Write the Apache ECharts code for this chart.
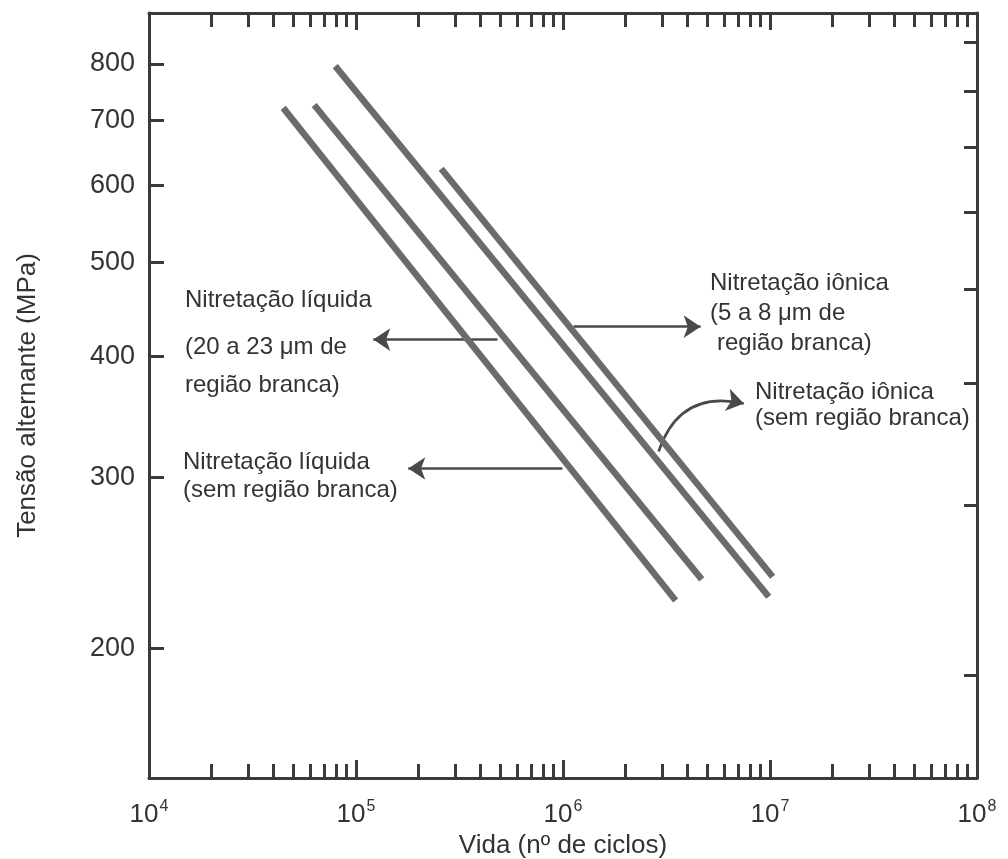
<!DOCTYPE html>
<html><head><meta charset="utf-8">
<script src="https://cdn.jsdelivr.net/npm/echarts@6/dist/echarts.min.js"></script>
<style>html,body{margin:0;padding:0;background:#fff}#c{width:1008px;height:859px}</style>
</head><body><div id="c"></div>
<script>
// ---- data (cycles, MPa) ----
const cyclesLiqSem  = [44500, 3.50e6];
const stressLiqSem  = [721, 224];
const cyclesLiq2023 = [62800, 4.68e6];
const stressLiq2023 = [726, 235.5];
const cyclesIonSem  = [79400, 9.86e6];
const stressIonSem  = [796, 226];
const cyclesIon58   = [258000, 1.03e7];
const stressIon58   = [624, 237];

// annotation arrows (cycles, MPa): start -> tip
const arrowLiq2023 = [[482000, 416], [121200, 416]];
const arrowIon58   = [[1.124e6, 429], [4.62e6, 429]];
const arrowLiqSem  = [[994500, 306.4], [178900, 306.4]];
const arrowIonSem  = [[2.896e6, 319], [7.48e6, 357.4]];

// axes
const xMin = 1e4, xMax = 1e8;
const yMin = 147, yMax = 903;
const xDecadeExps = [4, 5, 6, 7];
const xMantissas = [2, 3, 4, 5, 6, 7, 8, 9];
const yTickValues = [200, 300, 400, 500, 600, 700, 800];
const rightUnit = 93.7;
const rightMultipliers = [2, 3, 4, 5, 6, 7, 8, 9];

const FONT = '"Liberation Sans", Arial, sans-serif';
const AX = '#3a3a3a';
const LINEC = '#6b6b6b';
const TXT = '#333';

const xMinorLog = [];
xDecadeExps.forEach(d => xMantissas.forEach(m => xMinorLog.push(Math.log10(m * Math.pow(10, d)))));
const xMajorInnerLog = xDecadeExps.slice(1);
const yTickLog = yTickValues.map(v => Math.log10(v));
const rightTickLog = rightMultipliers.map(m => Math.log10(m * rightUnit));

function pairs(xs, ys) { return xs.map((x, i) => [x, ys[i]]); }

const lineSeries = [
  ['Nitretação líquida (sem região branca)', cyclesLiqSem, stressLiqSem],
  ['Nitretação líquida (20 a 23 μm de região branca)', cyclesLiq2023, stressLiq2023],
  ['Nitretação iônica (sem região branca)', cyclesIonSem, stressIonSem],
  ['Nitretação iônica (5 a 8 μm de região branca)', cyclesIon58, stressIon58]
].map(([name, xs, ys]) => ({
  name, type: 'line', xAxisIndex: 0, yAxisIndex: 0,
  data: pairs(xs, ys), symbol: 'none', silent: true,
  lineStyle: { color: LINEC, width: 6.5, cap: 'butt' }
}));

function arrowSeries(a, curveness) {
  return {
    type: 'lines', coordinateSystem: 'cartesian2d', xAxisIndex: 0, yAxisIndex: 0,
    silent: true, polyline: false,
    symbol: ['none', 'arrow'], symbolSize: [9, 17],
    lineStyle: { color: '#4a4a4a', width: 2.5, type: 'solid', curveness: curveness, opacity: 1 },
    data: [{ coords: [a[0], a[1]] }]
  };
}

const tickStyle = { color: AX, width: 3 };
const hidden = { show: false };

const option = {
  animation: false,
  grid: { left: 149, right: 31, top: 13, bottom: 81, containLabel: false, outerBoundsMode: 'none' },
  xAxis: [
    { type: 'log', logBase: 10, min: xMin, max: xMax, position: 'bottom',
      axisLine: { show: true, lineStyle: { color: AX, width: 3 } },
      axisTick: { show: true, inside: true, length: 18, lineStyle: tickStyle },
      axisLabel: { show: true, margin: 21, color: TXT, fontFamily: FONT,
        formatter: v => '{b|10}{e|' + Math.round(Math.log10(v)) + '}',
        rich: { b: { fontSize: 26, fontFamily: FONT, color: TXT },
                e: { fontSize: 16, fontFamily: FONT, color: TXT, padding: [0, 0, 15, 1] } } },
      splitLine: hidden, minorSplitLine: hidden,
      name: 'Vida (n\u00BA de ciclos)', nameLocation: 'middle', nameGap: 54,
      nameTextStyle: { fontSize: 26, fontFamily: FONT, color: TXT } },
    { type: 'value', min: 4, max: 8, position: 'bottom',
      axisLine: hidden, axisLabel: hidden, splitLine: hidden,
      axisTick: { show: true, inside: true, length: 14, lineStyle: tickStyle, customValues: xMinorLog } },
    { type: 'value', min: 4, max: 8, position: 'top',
      axisLine: { show: true, lineStyle: { color: AX, width: 3 } }, axisLabel: hidden, splitLine: hidden,
      axisTick: { show: true, inside: true, length: 14, lineStyle: tickStyle, customValues: xMinorLog } },
    { type: 'value', min: 4, max: 8, position: 'top',
      axisLine: hidden, axisLabel: hidden, splitLine: hidden,
      axisTick: { show: true, inside: true, length: 17, lineStyle: tickStyle, customValues: xMajorInnerLog } }
  ],
  yAxis: [
    { type: 'log', logBase: 10, min: yMin, max: yMax, position: 'left',
      axisLine: { show: true, lineStyle: { color: AX, width: 3 } },
      axisTick: hidden, axisLabel: hidden, splitLine: hidden, minorSplitLine: hidden,
      name: 'Tensão alternante (MPa)', nameLocation: 'middle', nameGap: 108, nameRotate: 90,
      nameTextStyle: { fontSize: 26, fontFamily: FONT, color: TXT } },
    { type: 'value', min: Math.log10(yMin), max: Math.log10(yMax), position: 'left',
      axisLine: hidden, splitLine: hidden,
      axisTick: { show: true, inside: true, length: 15, lineStyle: tickStyle, customValues: yTickLog },
      axisLabel: { show: true, margin: 14, fontSize: 27, fontFamily: FONT, color: TXT,
        customValues: yTickLog, formatter: v => String(Math.round(Math.pow(10, v))) } },
    { type: 'log', logBase: 10, min: yMin, max: yMax, position: 'right',
      axisLine: { show: true, lineStyle: { color: AX, width: 3 } },
      axisTick: hidden, axisLabel: hidden, splitLine: hidden },
    { type: 'value', min: Math.log10(yMin), max: Math.log10(yMax), position: 'right',
      axisLine: hidden, axisLabel: hidden, splitLine: hidden,
      axisTick: { show: true, inside: true, length: 13, lineStyle: tickStyle, customValues: rightTickLog } }
  ],
  series: lineSeries.concat([
    arrowSeries(arrowLiq2023, 0),
    arrowSeries(arrowIon58, 0),
    arrowSeries(arrowLiqSem, 0),
    arrowSeries(arrowIonSem, 0.45)
  ]),
  graphic: [
    ['Nitretação líquida', 185, 300],
    ['(20 a 23 \u03BCm de', 185, 347],
    ['região branca)', 185, 385],
    ['Nitretação iônica', 710, 283],
    ['(5 a 8 \u03BCm de', 710, 313],
    ['região branca)', 717, 343],
    ['Nitretação iônica', 755, 392],
    ['(sem região branca)', 755, 418],
    ['Nitretação líquida', 183, 462],
    ['(sem região branca)', 183, 490]
  ].map(([t, x, y]) => ({
    type: 'text', x: x, y: y, silent: true,
    style: { text: t, fill: TXT, fontSize: 24, fontFamily: FONT, verticalAlign: 'middle', align: 'left' }
  }))
};

const chart = echarts.init(document.getElementById('c'), null, { renderer: 'canvas' });
chart.setOption(option);
</script>
</body></html>
